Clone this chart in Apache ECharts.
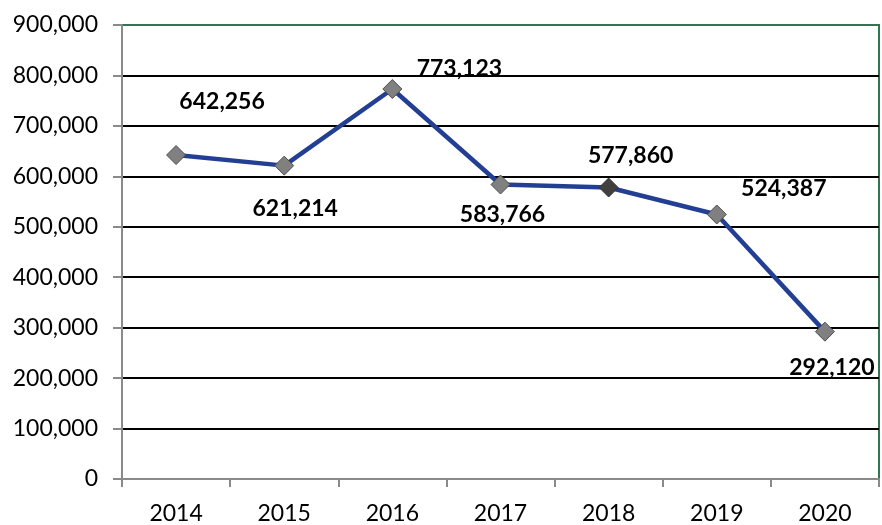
<!DOCTYPE html>
<html>
<head>
<meta charset="utf-8">
<script src="https://cdn.jsdelivr.net/npm/echarts@6/dist/echarts.min.js"></script>
<style>
  html, body { margin: 0; padding: 0; background: #fff; }
  #chart { width: 882px; height: 525px; }
</style>
</head>
<body>
<div id="chart"></div>
<script>
// values
const years = ["2014", "2015", "2016", "2017", "2018", "2019", "2020"];
const values = [642256, 621214, 773123, 583766, 577860, 524387, 292120];
// label offsets from the point, px
const labelOffsets = [[46, -53], [11, 43], [67, -20], [2, 30], [22, -32], [67, -26], [7, 36]];

const FONT = "Lato, 'Open Sans', sans-serif";
const chart = echarts.init(document.getElementById("chart"));

const fmt = (v) => v.toLocaleString("en-US");

const seriesData = values.map((v, i) => {
  const item = {
    value: v,
    label: { offset: labelOffsets[i] }
  };
  // 2018 marker is darker
  if (i === 4) item.itemStyle = { color: "#404040", borderColor: "#333" };
  return item;
});

// grid lines: black, top one green (border)
const splitColors = [];
for (let i = 0; i < 10; i++) splitColors.push(i === 9 ? "#2e7654" : "#000");

chart.setOption({
  animation: false,
  grid: {
    left: 122, right: 3, top: 25, bottom: 46,
    show: true,
    borderColor: "#2e7654",
    borderWidth: 2,
    backgroundColor: "transparent"
  },
  xAxis: {
    type: "category",
    data: years,
    boundaryGap: true,
    axisLine: { lineStyle: { color: "#8a8a8a", width: 2 } },
    axisTick: { show: true, length: 8, lineStyle: { color: "#8a8a8a", width: 2 } },
    axisLabel: { color: "#000", fontFamily: FONT, fontSize: 23, margin: 23 }
  },
  yAxis: {
    type: "value",
    min: 0,
    max: 900000,
    interval: 100000,
    axisLine: { show: true, lineStyle: { color: "#8a8a8a", width: 2 } },
    axisTick: { show: true, length: 9, lineStyle: { color: "#8a8a8a", width: 2 } },
    axisLabel: {
      color: "#000", fontFamily: FONT, fontSize: 23, margin: 24,
      formatter: (v) => fmt(v)
    },
    splitLine: { show: true, lineStyle: { color: splitColors, width: 2 } }
  },
  series: [{
    type: "line",
    data: seriesData,
    symbol: "path://M0,-1L1,0L0,1L-1,0Z",
    symbolSize: 19,
    lineStyle: { color: "#233f94", width: 4.5 },
    itemStyle: { color: "#808080", borderColor: "#4d4d4d", borderWidth: 1 },
    label: {
      show: true,
      position: "inside",
      color: "#000",
      fontFamily: FONT,
      fontWeight: "bold",
      fontSize: 23,
      formatter: (p) => fmt(p.value)
    },
    z: 3
  }]
});
</script>
</body>
</html>
